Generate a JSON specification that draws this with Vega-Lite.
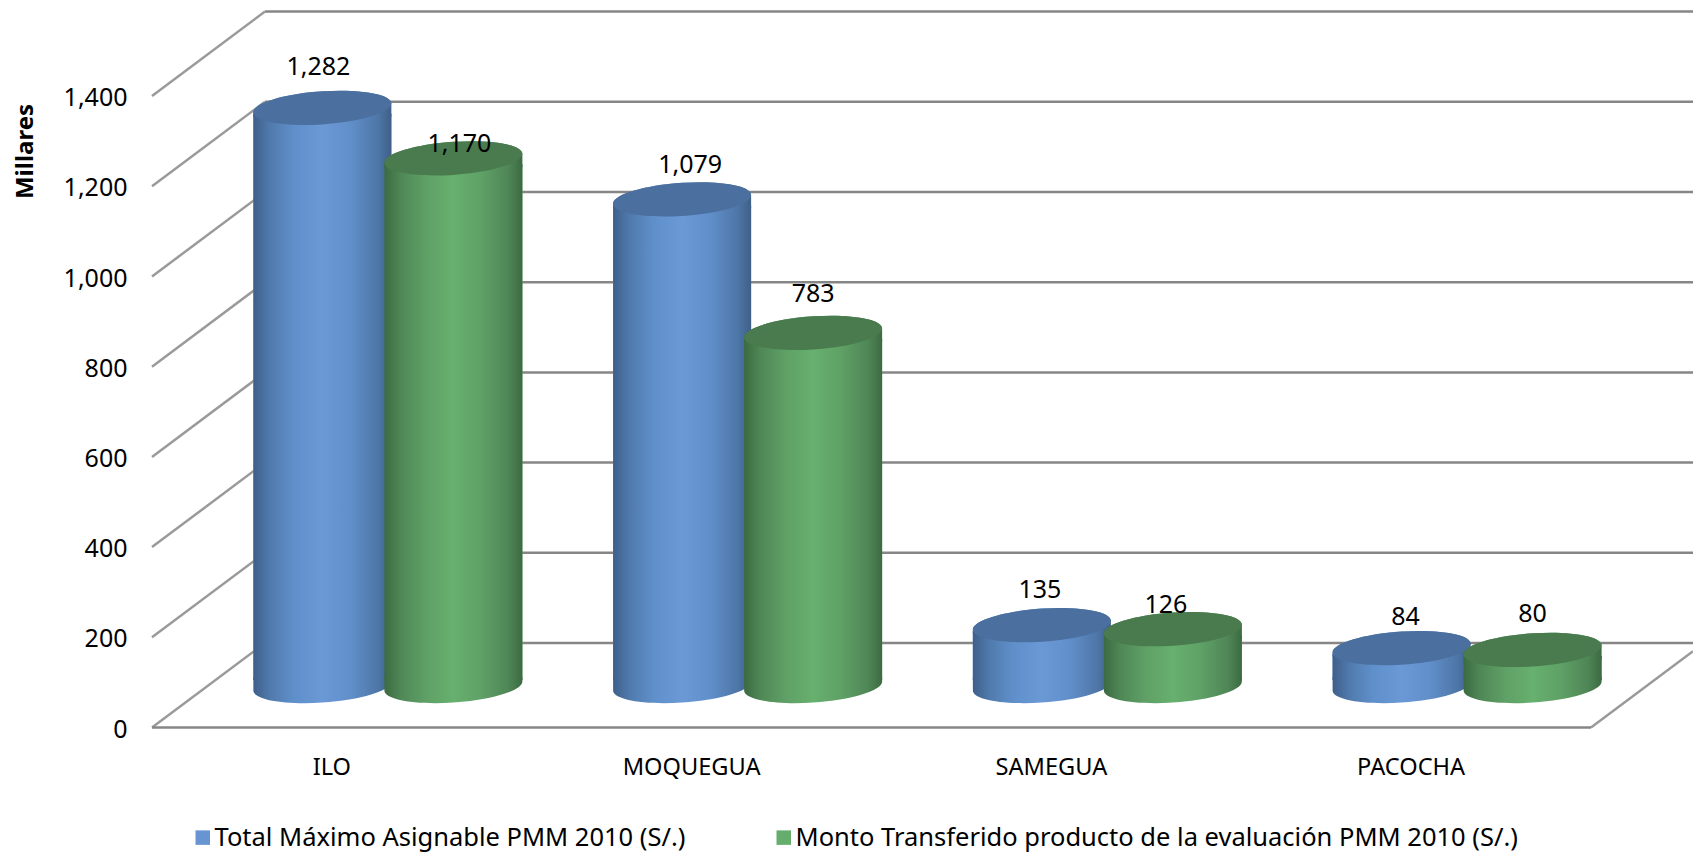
{"$schema":"https://vega.github.io/schema/vega-lite/v6.json","width":1541,"height":716,"autosize":{"type":"none"},"padding":{"left":152,"top":11.5,"right":0,"bottom":126.5},"background":"white","config":{"view":{"stroke":null},"font":"Noto Sans"},"datasets":{"bars":[{"category":"ILO","series":"Total Máximo Asignable PMM 2010 (S/.)","value":1282},{"category":"ILO","series":"Monto Transferido producto de la evaluación PMM 2010 (S/.)","value":1170},{"category":"MOQUEGUA","series":"Total Máximo Asignable PMM 2010 (S/.)","value":1079},{"category":"MOQUEGUA","series":"Monto Transferido producto de la evaluación PMM 2010 (S/.)","value":783},{"category":"SAMEGUA","series":"Total Máximo Asignable PMM 2010 (S/.)","value":135},{"category":"SAMEGUA","series":"Monto Transferido producto de la evaluación PMM 2010 (S/.)","value":126},{"category":"PACOCHA","series":"Total Máximo Asignable PMM 2010 (S/.)","value":84},{"category":"PACOCHA","series":"Monto Transferido producto de la evaluación PMM 2010 (S/.)","value":80}],"frame":[{"line":"g0","kind":"grid","pos":0.314,"level":187.4},{"line":"g0","kind":"grid","pos":4.2835,"level":187.4},{"line":"g200","kind":"grid","pos":0.314,"level":387.4},{"line":"g200","kind":"grid","pos":4.2835,"level":387.4},{"line":"g400","kind":"grid","pos":0.314,"level":587.4},{"line":"g400","kind":"grid","pos":4.2835,"level":587.4},{"line":"g600","kind":"grid","pos":0.314,"level":787.4},{"line":"g600","kind":"grid","pos":4.2835,"level":787.4},{"line":"g800","kind":"grid","pos":0.314,"level":987.4},{"line":"g800","kind":"grid","pos":4.2835,"level":987.4},{"line":"g1000","kind":"grid","pos":0.314,"level":1187.4},{"line":"g1000","kind":"grid","pos":4.2835,"level":1187.4},{"line":"g1200","kind":"grid","pos":0.314,"level":1387.4},{"line":"g1200","kind":"grid","pos":4.2835,"level":1387.4},{"line":"g1400","kind":"grid","pos":0.314,"level":1587.4},{"line":"g1400","kind":"grid","pos":4.2835,"level":1587.4},{"line":"floor","kind":"grid","pos":0,"level":0},{"line":"floor","kind":"grid","pos":4,"level":0},{"line":"d0","kind":"diag","pos":0,"level":0},{"line":"d0","kind":"diag","pos":0.314,"level":187.4},{"line":"d200","kind":"diag","pos":0,"level":200},{"line":"d200","kind":"diag","pos":0.314,"level":387.4},{"line":"d400","kind":"diag","pos":0,"level":400},{"line":"d400","kind":"diag","pos":0.314,"level":587.4},{"line":"d600","kind":"diag","pos":0,"level":600},{"line":"d600","kind":"diag","pos":0.314,"level":787.4},{"line":"d800","kind":"diag","pos":0,"level":800},{"line":"d800","kind":"diag","pos":0.314,"level":987.4},{"line":"d1000","kind":"diag","pos":0,"level":1000},{"line":"d1000","kind":"diag","pos":0.314,"level":1187.4},{"line":"d1200","kind":"diag","pos":0,"level":1200},{"line":"d1200","kind":"diag","pos":0.314,"level":1387.4},{"line":"d1400","kind":"diag","pos":0,"level":1400},{"line":"d1400","kind":"diag","pos":0.314,"level":1587.4},{"line":"dright","kind":"diag","pos":4,"level":0},{"line":"dright","kind":"diag","pos":4.2835,"level":169}]},"layer":[{"data":{"name":"frame"},"encoding":{"x":{"field":"pos","type":"quantitative","axis":null,"scale":{"domain":[0,4.2835],"nice":false,"zero":false}},"y":{"field":"level","type":"quantitative","title":"Millares","axis":{"values":[0,200,400,600,800,1000,1200,1400],"format":",d","domain":false,"ticks":false,"grid":false,"labelPadding":25,"labelFontSize":25,"labelColor":"#000","labelOffset":1.5,"titleFontSize":24,"titleFontWeight":"bold","titleColor":"#000","titleX":-115,"titleY":139.5,"titleFont":"Noto Sans"},"scale":{"domain":[0,1587.6],"nice":false}},"detail":{"field":"line"}},"layer":[{"transform":[{"filter":"datum.kind==='diag'"}],"mark":{"type":"line","color":"#9a9a9a","strokeWidth":2.5}},{"transform":[{"filter":"datum.kind==='grid'"}],"mark":{"type":"line","color":"#868686","strokeWidth":2.5}}]},{"data":{"name":"bars"},"mark":{"type":"bar","opacity":0},"encoding":{"x":{"field":"category","type":"nominal","sort":null,"title":null,"axis":{"domain":false,"ticks":false,"labelAngle":0,"labelFontSize":23.6,"labelColor":"#000","labelPadding":40,"labelBaseline":"middle"},"scale":{"type":"band","domain":["ILO","MOQUEGUA","SAMEGUA","PACOCHA"],"paddingInner":0,"paddingOuter":0.1418,"align":0}}}},{"data":{"name":"bars"},"encoding":{"x":{"field":"category","type":"nominal","sort":null,"axis":null,"scale":{"type":"band","domain":["ILO","MOQUEGUA","SAMEGUA","PACOCHA"],"range":[56,1597],"paddingInner":0,"paddingOuter":0.1418,"align":0}},"xOffset":{"field":"series","type":"nominal","sort":null,"scale":{"domain":["Total Máximo Asignable PMM 2010 (S/.)","Monto Transferido producto de la evaluación PMM 2010 (S/.)"],"paddingInner":0,"paddingOuter":0.373}},"y":{"field":"value","type":"quantitative","stack":null,"axis":null,"scale":{"domain":[0,1587.6],"range":[674.5,-41.5],"nice":false}}},"layer":[{"mark":{"type":"bar","width":138,"yOffset":6,"y2Offset":-6},"encoding":{"y2":{"datum":0},"color":{"field":"series","type":"nominal","sort":null,"scale":{"domain":["Total Máximo Asignable PMM 2010 (S/.)","Monto Transferido producto de la evaluación PMM 2010 (S/.)"],"range":["#6895d2","#65ad6c"]},"legend":{"title":null,"orient":"none","legendX":38,"legendY":813,"direction":"horizontal","columns":2,"columnPadding":85,"symbolType":"square","symbolSize":210,"symbolStrokeWidth":0,"labelFontSize":25.5,"labelLimit":900,"labelColor":"#000","labelOffset":-1}}}},{"transform":[{"filter":"datum.series==='Total Máximo Asignable PMM 2010 (S/.)'"}],"layer":[{"mark":{"type":"bar","width":138,"yOffset":6,"y2Offset":-6,"fill":{"gradient":"linear","x1":0,"x2":1,"y1":0,"y2":0,"stops":[{"offset":0,"color":"#3f5f8a"},{"offset":0.12,"color":"#507aad"},{"offset":0.3,"color":"#6090cb"},{"offset":0.5,"color":"#6a99d6"},{"offset":0.7,"color":"#618fca"},{"offset":0.9,"color":"#4e77a8"},{"offset":1,"color":"#3f5f88"}]}},"encoding":{"y2":{"datum":0}}},{"mark":{"type":"point","shape":"M1,-.065C1,.0675,.552,.204,0,.24C-.552,.276,-1,.1975,-1,.065L-1,-.13L1,-.13Z","size":19044,"filled":true,"opacity":1,"strokeWidth":0,"fill":{"gradient":"linear","x1":0,"x2":1,"y1":0,"y2":0,"stops":[{"offset":0,"color":"#3f5f8a"},{"offset":0.12,"color":"#507aad"},{"offset":0.3,"color":"#6090cb"},{"offset":0.5,"color":"#6a99d6"},{"offset":0.7,"color":"#618fca"},{"offset":0.9,"color":"#4e77a8"},{"offset":1,"color":"#3f5f88"}]}},"encoding":{"y":{"datum":0,"type":"quantitative"}}},{"mark":{"type":"point","shape":"M-1,.065C-1,-.0675,-.552,-.204,0,-.24C.552,-.276,1,-.1975,1,-.065L1,.13L-1,.13Z","size":19044,"filled":true,"opacity":1,"strokeWidth":0,"fill":{"gradient":"linear","x1":0,"x2":1,"y1":0,"y2":0,"stops":[{"offset":0,"color":"#3f5f8a"},{"offset":0.12,"color":"#507aad"},{"offset":0.3,"color":"#6090cb"},{"offset":0.5,"color":"#6a99d6"},{"offset":0.7,"color":"#618fca"},{"offset":0.9,"color":"#4e77a8"},{"offset":1,"color":"#3f5f88"}]}}},{"mark":{"type":"point","shape":"M1,-.065C1,.0675,.552,.204,0,.24C-.552,.276,-1,.1975,-1,.065C-1,-.0675,-.552,-.204,0,-.24C.552,-.276,1,-.1975,1,-.065Z","size":19044,"filled":true,"opacity":1,"strokeWidth":0,"fill":"#4b6f9e"}}]},{"transform":[{"filter":"datum.series==='Monto Transferido producto de la evaluación PMM 2010 (S/.)'"}],"layer":[{"mark":{"type":"bar","width":138,"yOffset":6,"y2Offset":-6,"fill":{"gradient":"linear","x1":0,"x2":1,"y1":0,"y2":0,"stops":[{"offset":0,"color":"#3c6a42"},{"offset":0.12,"color":"#4f8856"},{"offset":0.3,"color":"#5fa066"},{"offset":0.5,"color":"#67b06e"},{"offset":0.7,"color":"#5fa166"},{"offset":0.9,"color":"#4f8656"},{"offset":1,"color":"#3c6a42"}]}},"encoding":{"y2":{"datum":0}}},{"mark":{"type":"point","shape":"M1,-.065C1,.0675,.552,.204,0,.24C-.552,.276,-1,.1975,-1,.065L-1,-.13L1,-.13Z","size":19044,"filled":true,"opacity":1,"strokeWidth":0,"fill":{"gradient":"linear","x1":0,"x2":1,"y1":0,"y2":0,"stops":[{"offset":0,"color":"#3c6a42"},{"offset":0.12,"color":"#4f8856"},{"offset":0.3,"color":"#5fa066"},{"offset":0.5,"color":"#67b06e"},{"offset":0.7,"color":"#5fa166"},{"offset":0.9,"color":"#4f8656"},{"offset":1,"color":"#3c6a42"}]}},"encoding":{"y":{"datum":0,"type":"quantitative"}}},{"mark":{"type":"point","shape":"M-1,.065C-1,-.0675,-.552,-.204,0,-.24C.552,-.276,1,-.1975,1,-.065L1,.13L-1,.13Z","size":19044,"filled":true,"opacity":1,"strokeWidth":0,"fill":{"gradient":"linear","x1":0,"x2":1,"y1":0,"y2":0,"stops":[{"offset":0,"color":"#3c6a42"},{"offset":0.12,"color":"#4f8856"},{"offset":0.3,"color":"#5fa066"},{"offset":0.5,"color":"#67b06e"},{"offset":0.7,"color":"#5fa166"},{"offset":0.9,"color":"#4f8656"},{"offset":1,"color":"#3c6a42"}]}}},{"mark":{"type":"point","shape":"M1,-.065C1,.0675,.552,.204,0,.24C-.552,.276,-1,.1975,-1,.065C-1,-.0675,-.552,-.204,0,-.24C.552,-.276,1,-.1975,1,-.065Z","size":19044,"filled":true,"opacity":1,"strokeWidth":0,"fill":"#4a7b4e"}}]},{"encoding":{"text":{"field":"value","type":"quantitative","format":",d"}},"layer":[{"transform":[{"filter":"datum.value===1282"}],"mark":{"type":"text","fontSize":25,"color":"#000","baseline":"middle","dx":-4,"dy":-41}},{"transform":[{"filter":"datum.value===1170"}],"mark":{"type":"text","fontSize":25,"color":"#000","baseline":"middle","dx":6,"dy":-14.5}},{"transform":[{"filter":"datum.value===1079"}],"mark":{"type":"text","fontSize":25,"color":"#000","baseline":"middle","dx":8,"dy":-34}},{"transform":[{"filter":"datum.value===783"}],"mark":{"type":"text","fontSize":25,"color":"#000","baseline":"middle","dx":0,"dy":-39}},{"transform":[{"filter":"datum.value===135"}],"mark":{"type":"text","fontSize":25,"color":"#000","baseline":"middle","dx":-2,"dy":-35}},{"transform":[{"filter":"datum.value===126"}],"mark":{"type":"text","fontSize":25,"color":"#000","baseline":"middle","dx":-7,"dy":-24}},{"transform":[{"filter":"datum.value===84"}],"mark":{"type":"text","fontSize":25,"color":"#000","baseline":"middle","dx":4,"dy":-31}},{"transform":[{"filter":"datum.value===80"}],"mark":{"type":"text","fontSize":25,"color":"#000","baseline":"middle","dx":0,"dy":-36}}]}]}],"resolve":{"scale":{"x":"independent","y":"independent"},"axis":{"x":"independent","y":"independent"}}}
